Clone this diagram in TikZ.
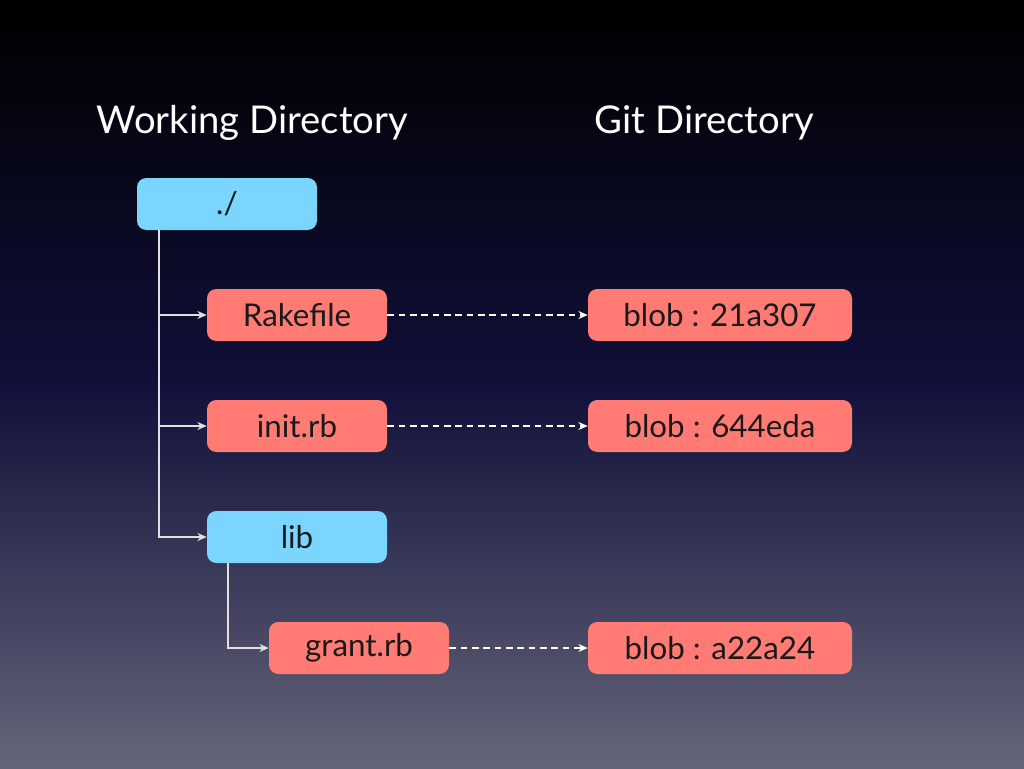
\documentclass[tikz,border=0pt]{standalone}
\usepackage{fontspec}
\setmainfont{Lato}
\usetikzlibrary{arrows.meta}
\definecolor{dirblue}{HTML}{7AD6FF}
\definecolor{filered}{HTML}{FF7B74}
\definecolor{bgtop}{HTML}{000000}
\definecolor{bgmid}{HTML}{10103A}
\definecolor{bgbot}{HTML}{65657A}
\tikzset{
  box/.style={rounded corners=7pt,minimum height=39pt,text=black!90,font=\fontsize{23.5}{26}\selectfont},
  dirbox/.style={box,fill=dirblue,minimum width=135pt},
  filebox/.style={box,fill=filered,minimum width=135pt},
  blobbox/.style={box,fill=filered,minimum width=198pt},
  tree/.style={draw=white!88!black,line width=1.2pt,-{Stealth[length=7pt,width=6pt]}},
  link/.style={draw=white,line width=1.1pt,dash pattern=on 5pt off 3.5pt,-{Stealth[length=7pt,width=6pt]}},
  title/.style={text=white,font=\fontsize{28.7}{32}\selectfont,anchor=west}
}
\begin{document}
\begin{tikzpicture}[x=0.75pt,y=-0.75pt]
\shade[top color=bgtop,bottom color=bgbot,middle color=bgmid] (0,0) rectangle (1024,768);
\useasboundingbox (0,0) rectangle (1024,768);
\node[title] (wd) at (92,123) {Working Directory};
\node[title] (gd) at (590,123) {Git Directory};
\node[dirbox] (root) at (227,204) {./};
\node[filebox] (rake) at (297,315) {Rakefile};
\node[filebox] (init) at (297,426) {init.rb};
\node[dirbox] (lib) at (297,537) {lib};
\node[filebox] (grant) at (359,648) {grant.rb};
\node[blobbox] (b1) at (720,315) {blob : 21a307};
\node[blobbox] (b2) at (720,426) {blob : 644eda};
\node[blobbox] (b3) at (720,648) {blob : a22a24};
\draw[tree] ([xshift=16.5pt]root.south west) |- (rake);
\draw[tree] ([xshift=16.5pt]root.south west) |- (init);
\draw[tree] ([xshift=16.5pt]root.south west) |- (lib);
\draw[tree] ([xshift=15.75pt]lib.south west) |- (grant);
\draw[link] (rake) -- (b1);
\draw[link] (init) -- (b2);
\draw[link] (grant) -- (b3);
\end{tikzpicture}
\end{document}
